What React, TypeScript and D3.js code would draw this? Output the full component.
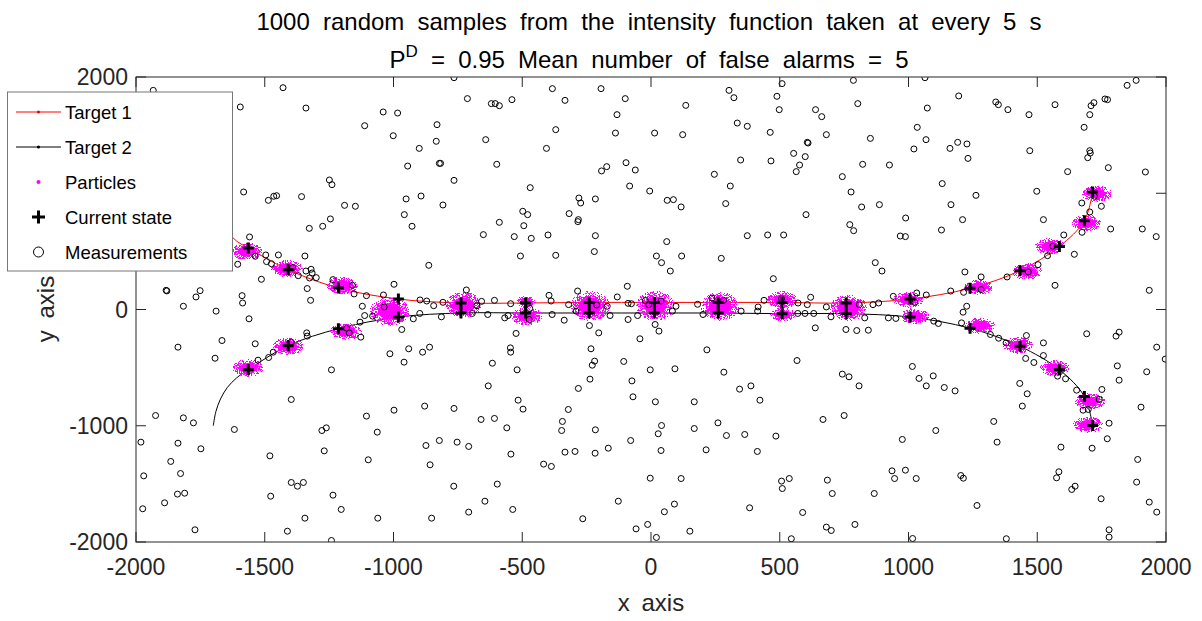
import React from 'react';
import * as d3 from 'd3';

const W = 1202;
const H = 621;

const xTicks = [-2000, -1500, -1000, -500, 0, 500, 1000, 1500, 2000];
const yTicks = [-2000, -1000, 0, 1000, 2000];

const titleLine1 = '1000 random samples from the intensity function taken at every 5 s';
const titleLine2Pre = 'P';
const titleLine2Sup = 'D';
const titleLine2Post = ' = 0.95 Mean number of false alarms = 5';

const legendLabels = ['Target 1', 'Target 2', 'Particles', 'Current state', 'Measurements'];

// Current state estimates (crosses)
const states1: [number, number][] = [
  [-1564, 529], [-1409, 342], [-1214, 185], [-981, 90], [-738, 56], [-487, 56], [-240, 61],
  [13, 61], [261, 61], [509, 61], [758, 56], [1006, 90], [1239, 183], [1433, 334],
  [1586, 543], [1683, 764], [1715, 1011],
];
const states2: [number, number][] = [
  [-1564, -518], [-1409, -311], [-1214, -165], [-981, -65], [-738, -30], [-487, -30], [-240, -30],
  [13, -30], [261, -30], [509, -36], [758, -36], [1006, -65], [1239, -161], [1433, -317],
  [1586, -518], [1683, -748], [1715, -997],
];

// true trajectories (start points before first state)
const track1Start: [number, number][] = [[-1700, 1000], [-1690, 880], [-1672, 770], [-1645, 670], [-1610, 590]];
const track2Start: [number, number][] = [[-1700, -1000], [-1690, -880], [-1672, -770], [-1645, -670], [-1610, -590]];

// particle clouds: centre and spread
const particleClouds = [
  { x: -1570, y: 500, sx: 58, sy: 70 },
  { x: -1415, y: 351, sx: 58, sy: 70 },
  { x: -1199, y: 205, sx: 58, sy: 72 },
  { x: -1014, y: -16, sx: 74, sy: 115 },
  { x: -729, y: 41, sx: 66, sy: 105 },
  { x: -483, y: -59, sx: 58, sy: 72 },
  { x: -485, y: 67, sx: 36, sy: 46 },
  { x: -237, y: 30, sx: 72, sy: 120 },
  { x: 16, y: 33, sx: 70, sy: 120 },
  { x: 268, y: 27, sx: 70, sy: 115 },
  { x: 509, y: 84, sx: 56, sy: 70 },
  { x: 513, y: -45, sx: 48, sy: 54 },
  { x: 766, y: 13, sx: 70, sy: 105 },
  { x: 999, y: 84, sx: 55, sy: 66 },
  { x: 1025, y: -59, sx: 55, sy: 62 },
  { x: 1271, y: 192, sx: 55, sy: 62 },
  { x: 1278, y: -139, sx: 55, sy: 66 },
  { x: 1459, y: 328, sx: 55, sy: 66 },
  { x: 1426, y: -309, sx: 55, sy: 66 },
  { x: 1550, y: 543, sx: 55, sy: 66 },
  { x: 1569, y: -503, sx: 55, sy: 66 },
  { x: 1692, y: 744, sx: 55, sy: 66 },
  { x: 1705, y: -791, sx: 55, sy: 66 },
  { x: 1731, y: 996, sx: 55, sy: 66 },
  { x: 1698, y: -991, sx: 55, sy: 66 },
  { x: -1564, y: -503, sx: 58, sy: 70 },
  { x: -1409, y: -317, sx: 58, sy: 70 },
  { x: -1184, y: -188, sx: 58, sy: 70 },
];

const measurements: [number, number][] = [
  // upper left
  [-1933, 1885], [-1429, 1908], [-765, 1994], [-383, 1900], [-194, 1900], [-713, 1814], [-540, 1805],
  [-620, 1771], [-605, 1771], [-589, 1753], [-334, 1799], [-100, 1814], [-1595, 1742], [-1340, 1733],
  [-1040, 1699], [-984, 1690], [-132, 1676], [-1112, 1581], [-831, 1590], [-1001, 1495], [-834, 1447],
  [-642, 1461], [-370, 1547], [-138, 1518], [-900, 1386], [-406, 1386], [-945, 1234], [-822, 1257],
  [-817, 1257], [-599, 1249], [-97, 1263], [-172, 1229], [-192, 1192], [-61, 1200], [-1249, 1114],
  [-1239, 1074], [-765, 1111], [-83, 1062], [-469, 1048], [-5, 1019], [-1582, 1011], [-1486, 939],
  [-1465, 974], [-1454, 979], [-1357, 971], [-951, 951], [-893, 976], [-280, 959], [-273, 916],
  [-216, 951], [-1190, 896], [-1148, 888], [-808, 899], [-958, 816], [-498, 845], [-479, 816],
  [-318, 825], [-282, 773], [-284, 756], [-1245, 779], [-1327, 698], [-1275, 716], [-928, 716],
  [-589, 750], [-494, 721], [-1559, 624], [-651, 644], [-531, 627], [-465, 612], [-400, 641],
  [-216, 635], [-507, 460], [-370, 466], [-220, 498], [-1496, 469], [-1447, 469], [-1344, 460],
  [-1537, 458], [-1605, 389], [-1493, 412], [-1474, 394], [-863, 380], [-1392, 360], [-1340, 331],
  [-1320, 346], [-1316, 314], [-1370, 291], [-1326, 271], [-1300, 274], [-1513, 260], [-1235, 257],
  [-1160, 208], [-1153, 134], [-1105, 119], [-1039, 125], [-998, 217], [-1335, 180], [-1322, 79],
  [-1883, 165], [-1880, 160], [-1751, 162], [-1767, 108], [-1588, 119], [-1586, 56], [-1816, 28],
  [-717, 168], [-897, 82], [-871, 73], [-844, 33], [-808, 62], [-658, 70], [-608, 79], [-676, 33],
  [-396, 122], [-388, 73], [-320, 42], [-285, 159], [-170, 28], [-131, 108], [-92, 200], [-89, 53],
  [-76, 50], [-9, 42], [-22, 76], [-545, 50], [-471, 10], [-1121, 28], [-1036, 22], [-211, 39],
  // upper right
  [509, 1943], [786, 1971], [1064, 1994], [1849, 1928], [1884, 1971], [303, 1885], [322, 1822],
  [489, 1834], [498, 1719], [135, 1756], [803, 1771], [1195, 1837], [1073, 1733], [1339, 1785],
  [1349, 1762], [1386, 1719], [1468, 1676], [1569, 1762], [1720, 1779], [1709, 1753], [1763, 1811],
  [1773, 1805], [1704, 1676], [14, 1518], [123, 1504], [335, 1604], [374, 1576], [463, 1524],
  [639, 1719], [663, 1659], [681, 1504], [607, 1438], [610, 1432], [852, 1472], [1034, 1567],
  [1068, 1461], [1682, 1567], [554, 1343], [599, 1315], [577, 1243], [564, 1186], [348, 1286],
  [466, 1278], [246, 1163], [308, 1062], [822, 1249], [926, 1243], [743, 1143], [1021, 1381],
  [1161, 1386], [1191, 1438], [1227, 1424], [1231, 1300], [1471, 1366], [1704, 1366], [1706, 1346],
  [1696, 1306], [1776, 1220], [1618, 1186], [1920, 1183], [63, 939], [87, 945], [117, 882],
  [290, 911], [602, 816], [777, 1011], [818, 882], [887, 902], [1131, 1083], [1165, 902], [1262, 982],
  [1498, 1017], [1210, 773], [1128, 684], [989, 787], [374, 635], [453, 641], [515, 641], [772, 730],
  [787, 678], [968, 632], [988, 627], [1524, 773], [1785, 693], [1908, 693], [1962, 627], [61, 584],
  [21, 460], [41, 403], [75, 331], [119, 460], [273, 440], [475, 265], [871, 403], [897, 331],
  [1219, 323], [1282, 280], [1383, 280], [1569, 208], [1644, 475], [1603, 641], [1673, 916],
  [1749, 888], [1704, 839], [1674, 664], [1935, 165], [1503, 386], [1465, 323], [1540, 463],
  [1560, 544], [1722, 974], [1164, 159], [1214, 148], [1069, 125], [1032, 142], [1282, 171],
  [237, 99], [181, 45], [97, 28], [416, 22], [439, 79], [620, 105], [571, 56], [607, 42], [681, 22],
  [862, 42], [884, 56], [941, 113], [1226, 28], [39, 73], [507, 93], [809, 42], [1025, 62], [282, 79],
  // lower left
  [-1689, -14], [-1561, -80], [-1837, -324], [-1666, -267], [-1693, -419], [-1537, -295], [-1526, -436],
  [-1485, -413], [-1467, -367], [-1397, -281], [-1337, -201], [-1335, -229], [-1112, -52], [-1081, -57],
  [-1130, -109], [-1127, -238], [-1182, -161], [-1172, -201], [-1241, -519], [-1014, -381], [-941, -338],
  [-959, -453], [-968, -172], [-923, -80], [-898, -34], [-887, -367], [-860, -324], [-814, -63],
  [-694, -34], [-634, -43], [-568, -72], [-555, -52], [-524, -206], [-546, -330], [-545, -367],
  [-616, -462], [-520, -519], [-632, -657], [-516, -780], [-497, -857], [-384, -43], [-337, -92],
  [-291, -14], [-239, -138], [-203, -201], [-233, -338], [-219, -444], [-228, -479], [-237, -599],
  [-282, -679], [-321, -860], [-344, -963], [-347, -1041], [-216, -1035], [-106, -447], [-74, -614],
  [-70, -751], [-43, -252], [-3, -519], [-89, -86], [-52, -52], [-159, -52], [-473, -86], [-1397, -774],
  [-1924, -912], [-1816, -932], [-1777, -975], [-1618, -1032], [-1981, -1141], [-1837, -1150],
  [-1748, -1198], [-1865, -1307], [-1827, -1411], [-1970, -1431], [-1839, -1588], [-1811, -1580],
  [-1889, -1663], [-1974, -1714], [-1771, -1895], [-1480, -1259], [-1477, -1606], [-1397, -1488],
  [-1373, -1520], [-1350, -1488], [-1412, -1907], [-1344, -1795], [-1241, -1987], [-1278, -1041],
  [-1261, -1018], [-1269, -1216], [-1235, -1597], [-1203, -1720], [-1105, -917], [-1063, -1055],
  [-1098, -1293], [-1061, -1795], [-998, -866], [-879, -831], [-874, -1170], [-822, -1127],
  [-858, -1336], [-765, -851], [-753, -1141], [-708, -1178], [-766, -1520], [-852, -1795],
  [-708, -1743], [-660, -946], [-608, -937], [-560, -1018], [-544, -1244], [-597, -1502],
  [-645, -1649], [-537, -1720], [-417, -1330], [-387, -1350], [-334, -1227], [-295, -1221],
  [-217, -1236], [-166, -1193], [-79, -1127], [-265, -1800], [-127, -1649], [-58, -1887],
  [-13, -1849], [-3, -1451],
  // lower right
  [16, -129], [31, -186], [93, -510], [217, -347], [283, -539], [17, -794], [168, -794], [344, -685],
  [388, -657], [423, -780], [41, -998], [28, -1069], [39, -1213], [168, -1024], [260, -975],
  [293, -1084], [214, -1207], [364, -1075], [413, -1221], [485, -1089], [117, -1454], [52, -1740],
  [91, -1674], [383, -1706], [151, -1907], [21, -1961], [507, -1476], [510, -1540], [537, -1454],
  [589, -1746], [545, -1972], [681, -1872], [700, -1901], [792, -1849], [685, -1468], [704, -1583],
  [867, -1583], [668, -946], [750, -912], [567, -439], [638, -158], [757, -172], [799, -181],
  [844, -178], [743, -556], [769, -579], [808, -657], [699, -63], [830, -72], [922, -72], [951, -77],
  [1098, -100], [1116, -120], [1206, -115], [1212, -23], [1015, -490], [1041, -593], [1069, -657],
  [1096, -571], [1139, -671], [1181, -700], [976, -1118], [936, -1388], [946, -1454], [988, -1382],
  [1030, -1454], [1106, -1041], [1016, -1970], [1203, -1428], [1213, -1451], [1266, -1686],
  [1331, -963], [1344, -1141], [1380, -1972], [1318, -215], [1350, -247], [1379, -287], [1458, -224],
  [1455, -421], [1487, -456], [1524, -287], [1524, -396], [1432, -636], [1461, -725], [1442, -831],
  [1579, -573], [1610, -596], [1653, -694], [1751, -688], [1741, -774], [1698, -860], [1678, -866],
  [1779, -978], [1772, -1112], [1713, -1193], [1592, -1184], [1584, -1396], [1575, -1448],
  [1647, -1520], [1634, -1548], [1748, -1628], [1692, -209], [1806, -229], [1818, -195], [1811, -485],
  [1818, -608], [1964, -324], [1997, -427], [1925, -536], [1903, -840], [1890, -1290], [1886, -1485],
  [1935, -1657], [1964, -1743], [1779, -1895], [1779, -1958], [202, -43], [350, -14], [414, -14],
  [570, -34], [598, -34], [632, -34], [83, -14],
];

const FONT = '"Liberation Sans", Arial, Helvetica, sans-serif';
const AX = '#262626';

export default function App() {
  const left = 136, right = 1166, top = 77, bottom = 542;
  const x = d3.scaleLinear().domain([-2000, 2000]).range([left, right]);
  const y = d3.scaleLinear().domain([-2000, 2000]).range([bottom, top]);

  const line = d3
    .line<[number, number]>()
    .x((d) => x(d[0]))
    .y((d) => y(d[1]))
    .curve(d3.curveCatmullRom.alpha(0.5));

  const path1 = line([...track1Start, ...states1]) || '';
  const path2 = line([...track2Start, ...states2]) || '';

  const crossSize = 5.5;
  const legendRows = [112, 147, 182, 217, 252];

  const cross = (cx: number, cy: number, s: number, key: string | number) => (
    <path
      key={key}
      d={`M${cx - s},${cy}H${cx + s}M${cx},${cy - s}V${cy + s}`}
      stroke="#000"
      strokeWidth={3}
      fill="none"
    />
  );

  return (
    <svg
      width={W}
      height={H}
      viewBox={`0 0 ${W} ${H}`}
      style={{ position: 'absolute', left: 0, top: 0, background: '#fff' }}
      fontFamily={FONT}
    >
      <defs>
        <radialGradient id="cloudGrad">
          <stop offset="0%" stopColor="#ff00ff" stopOpacity={1} />
          <stop offset="40%" stopColor="#ff00ff" stopOpacity={1} />
          <stop offset="100%" stopColor="#ff00ff" stopOpacity={0} />
        </radialGradient>
        <filter id="speck" x="-5%" y="-5%" width="110%" height="110%">
          <feTurbulence type="fractalNoise" baseFrequency="1.3" numOctaves={1} seed={11} result="noise" />
          <feColorMatrix
            in="noise"
            type="matrix"
            values="0 0 0 0 1  0 0 0 0 0  0 0 0 0 1  5 0 0 0 -2"
            result="mag"
          />
          <feComposite in="mag" in2="SourceGraphic" operator="in" result="masked" />
          <feComponentTransfer in="masked">
            <feFuncA type="discrete" tableValues="0 0 1 1 1 1 1 1" />
          </feComponentTransfer>
        </filter>
        <clipPath id="plotClip">
          <rect x={left} y={top} width={right - left} height={bottom - top} />
        </clipPath>
      </defs>

      <rect x={0} y={0} width={W} height={H} fill="#fff" />

      {/* titles */}
      <text x={649} y={30} textAnchor="middle" fontSize={24} wordSpacing={6.5} fill="#000">
        {titleLine1}
      </text>
      <text x={649} y={68} textAnchor="middle" fontSize={24} wordSpacing={6.5} fill="#000">
        {titleLine2Pre}
        <tspan fontSize={17} dy={-11}>
          {titleLine2Sup}
        </tspan>
        <tspan dy={11}>{titleLine2Post}</tspan>
      </text>

      <g clipPath="url(#plotClip)">
        {/* trajectories */}
        <path d={path1} fill="none" stroke="#ff0000" strokeWidth={1} />
        <path d={path2} fill="none" stroke="#000" strokeWidth={1} />
        {states1.map((d, i) => (
          <circle key={`t1${i}`} cx={x(d[0])} cy={y(d[1])} r={1.2} fill="#ff0000" />
        ))}
        {states2.map((d, i) => (
          <circle key={`t2${i}`} cx={x(d[0])} cy={y(d[1])} r={1.2} fill="#000" />
        ))}

        {/* particles: speckled halo + dense core */}
        <g filter="url(#speck)">
          {particleClouds.map((c, i) => (
            <ellipse
              key={`ph${i}`}
              cx={x(c.x)}
              cy={y(c.y)}
              rx={(x(c.sx) - x(0)) * 1.25}
              ry={(y(0) - y(c.sy)) * 1.25}
              fill="url(#cloudGrad)"
            />
          ))}
        </g>
        <g>
          {particleClouds.map((c, i) => (
            <ellipse
              key={`pc${i}`}
              cx={x(c.x)}
              cy={y(c.y)}
              rx={(x(c.sx) - x(0)) * 0.62}
              ry={(y(0) - y(c.sy)) * 0.62}
              fill="#ff00ff"
            />
          ))}
        </g>

        {/* current states */}
        {states1.map((d, i) => cross(x(d[0]), y(d[1]), crossSize, `s1${i}`))}
        {states2.map((d, i) => cross(x(d[0]), y(d[1]), crossSize, `s2${i}`))}

        {/* measurements */}
        {measurements.map((d, i) => (
          <circle key={`m${i}`} cx={x(d[0])} cy={y(d[1])} r={3} fill="none" stroke="#000" strokeWidth={1} />
        ))}
      </g>

      {/* axes box */}
      <rect x={left} y={top} width={right - left} height={bottom - top} fill="none" stroke={AX} strokeWidth={1} />
      {xTicks.map((t) => (
        <g key={`xt${t}`}>
          <line x1={x(t)} x2={x(t)} y1={bottom} y2={bottom - 10} stroke={AX} />
          <line x1={x(t)} x2={x(t)} y1={top} y2={top + 10} stroke={AX} />
          <text x={x(t)} y={bottom + 33} textAnchor="middle" fontSize={23} fill={AX}>
            {t}
          </text>
        </g>
      ))}
      {yTicks.map((t) => (
        <g key={`yt${t}`}>
          <line x1={left} x2={left + 10} y1={y(t)} y2={y(t)} stroke={AX} />
          <line x1={right} x2={right - 10} y1={y(t)} y2={y(t)} stroke={AX} />
          <text x={left - 8} y={y(t) + 8} textAnchor="end" fontSize={23} fill={AX}>
            {t}
          </text>
        </g>
      ))}
      <text x={651} y={611} textAnchor="middle" fontSize={24} wordSpacing={5} fill={AX}>
        x axis
      </text>
      <text transform={`translate(54,309) rotate(-90)`} textAnchor="middle" fontSize={24} wordSpacing={5} fill={AX}>
        y axis
      </text>

      {/* legend */}
      <g>
        <rect x={7.5} y={92} width={225} height={179} fill="#fff" stroke="#777" strokeWidth={1} />
        <line x1={16} x2={61} y1={legendRows[0]} y2={legendRows[0]} stroke="#ff0000" strokeWidth={1} />
        <circle cx={38.5} cy={legendRows[0]} r={1.6} fill="#ff0000" />
        <line x1={16} x2={61} y1={legendRows[1]} y2={legendRows[1]} stroke="#000" strokeWidth={1} />
        <circle cx={38.5} cy={legendRows[1]} r={1.6} fill="#000" />
        <circle cx={38.5} cy={legendRows[2]} r={2} fill="#ff00ff" />
        {cross(38.5, legendRows[3], 6.5, 'legcross')}
        <circle cx={38.5} cy={legendRows[4]} r={5} fill="none" stroke="#000" strokeWidth={1} />
        {legendLabels.map((lab, i) => (
          <text key={lab} x={65} y={legendRows[i] + 6.5} fontSize={18.5} fill="#000">
            {lab}
          </text>
        ))}
      </g>
    </svg>
  );
}
